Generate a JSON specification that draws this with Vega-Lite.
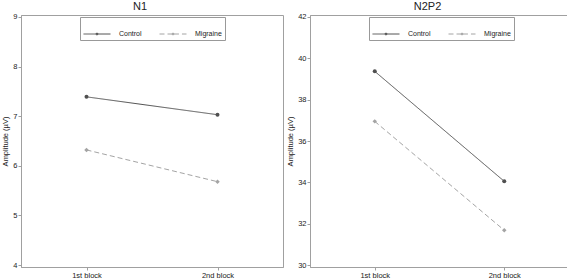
{
  "$schema": "https://vega.github.io/schema/vega-lite/v6.json",
  "padding": {"left": 1, "right": 0, "top": 0, "bottom": 0},
  "spacing": 2,
  "background": "white",
  "config": {
    "font": "Liberation Sans",
    "view": {"stroke": "#a0a0a0", "strokeWidth": 1},
    "title": {"fontSize": 11, "fontWeight": "normal", "color": "#222", "offset": 1},
    "axis": {
      "grid": false,
      "domainColor": "#a0a0a0",
      "tickColor": "#a0a0a0",
      "tickSize": 3,
      "labelFontSize": 7.5,
      "labelColor": "#222",
      "titleFontSize": 7.5,
      "titleFontWeight": "normal",
      "titleColor": "#222",
      "labelPadding": 1,
      "titlePadding": 3
    },
    "legend": {
      "orient": "none",
      "direction": "horizontal",
      "columns": 2,
      "strokeColor": "#999",
      "padding": 3,
      "labelFontSize": 7,
      "labelColor": "#222",
      "labelOffset": 8,
      "columnPadding": 15,
      "symbolSize": 729,
      "symbolStrokeWidth": 1,
      "legendY": 2
    }
  },
  "datasets": {
    "rows": [
      {"panel": "N1", "block": "1st block", "group": "Control", "amp": 7.39},
      {"panel": "N1", "block": "2nd block", "group": "Control", "amp": 7.03},
      {"panel": "N1", "block": "1st block", "group": "Migraine", "amp": 6.32},
      {"panel": "N1", "block": "2nd block", "group": "Migraine", "amp": 5.68},
      {"panel": "N2P2", "block": "1st block", "group": "Control", "amp": 39.37},
      {"panel": "N2P2", "block": "2nd block", "group": "Control", "amp": 34.05},
      {"panel": "N2P2", "block": "1st block", "group": "Migraine", "amp": 36.95},
      {"panel": "N2P2", "block": "2nd block", "group": "Migraine", "amp": 31.68}
    ]
  },
  "hconcat": [
    {
      "title": {"text": "N1", "dx": -12},
      "width": 262,
      "height": 252,
      "data": {"name": "rows"},
      "transform": [{"filter": "datum.panel === 'N1'"}],
      "encoding": {
        "x": {"field": "block", "type": "ordinal", "title": null,
              "scale": {"type": "point", "padding": 0.5},
              "axis": {"labelAngle": 0}},
        "y": {"field": "amp", "type": "quantitative", "title": "Amplitude (µV)",
              "scale": {"domain": [3.96, 9.04], "nice": false, "zero": false},
              "axis": {"values": [4, 5, 6, 7, 8, 9]}},
        "color": {"field": "group", "type": "nominal",
                  "scale": {"domain": ["Control", "Migraine"], "range": ["#505050", "#a4a4a4"]},
                  "legend": {"title": null, "legendX": 59, "symbolType": "M-1,0H-0.07M0.07,0H1M-0.07,0a0.07,0.07 0 1,0 0.14,0a0.07,0.07 0 1,0 -0.14,0"}}
      },
      "layer": [
        {"mark": {"type": "line", "strokeWidth": 1},
         "encoding": {"strokeDash": {"field": "group", "type": "nominal",
                      "scale": {"domain": ["Control", "Migraine"], "range": [[1, 0], [5, 3]]},
                      "legend": {"title": null, "legendX": 59, "symbolType": "M-1,0H-0.07M0.07,0H1M-0.07,0a0.07,0.07 0 1,0 0.14,0a0.07,0.07 0 1,0 -0.14,0"}}}},
        {"transform": [{"filter": "datum.group === 'Control'"}],
         "mark": {"type": "point", "filled": true, "opacity": 1, "size": 16, "shape": "circle"}},
        {"transform": [{"filter": "datum.group === 'Migraine'"}],
         "mark": {"type": "point", "filled": true, "opacity": 1, "size": 20, "shape": "diamond"}}
      ]
    },
    {
      "title": {"text": "N2P2", "dx": -12},
      "width": 259,
      "height": 252,
      "data": {"name": "rows"},
      "transform": [{"filter": "datum.panel === 'N2P2'"}],
      "encoding": {
        "x": {"field": "block", "type": "ordinal", "title": null,
              "scale": {"type": "point", "padding": 0.5},
              "axis": {"labelAngle": 0}},
        "y": {"field": "amp", "type": "quantitative", "title": "Amplitude (µV)",
              "scale": {"domain": [29.904, 42.096], "nice": false, "zero": false},
              "axis": {"values": [30, 32, 34, 36, 38, 40, 42]}},
        "color": {"field": "group", "type": "nominal",
                  "scale": {"domain": ["Control", "Migraine"], "range": ["#505050", "#a4a4a4"]},
                  "legend": {"title": null, "legendX": 59, "symbolType": "M-1,0H-0.07M0.07,0H1M-0.07,0a0.07,0.07 0 1,0 0.14,0a0.07,0.07 0 1,0 -0.14,0"}}
      },
      "layer": [
        {"mark": {"type": "line", "strokeWidth": 1},
         "encoding": {"strokeDash": {"field": "group", "type": "nominal",
                      "scale": {"domain": ["Control", "Migraine"], "range": [[1, 0], [5, 3]]},
                      "legend": {"title": null, "legendX": 59, "symbolType": "M-1,0H-0.07M0.07,0H1M-0.07,0a0.07,0.07 0 1,0 0.14,0a0.07,0.07 0 1,0 -0.14,0"}}}},
        {"transform": [{"filter": "datum.group === 'Control'"}],
         "mark": {"type": "point", "filled": true, "opacity": 1, "size": 16, "shape": "circle"}},
        {"transform": [{"filter": "datum.group === 'Migraine'"}],
         "mark": {"type": "point", "filled": true, "opacity": 1, "size": 20, "shape": "diamond"}}
      ]
    }
  ],
  "resolve": {"scale": {"color": "independent", "strokeDash": "independent", "y": "independent"}, "legend": {"color": "independent", "strokeDash": "independent"}}
}
